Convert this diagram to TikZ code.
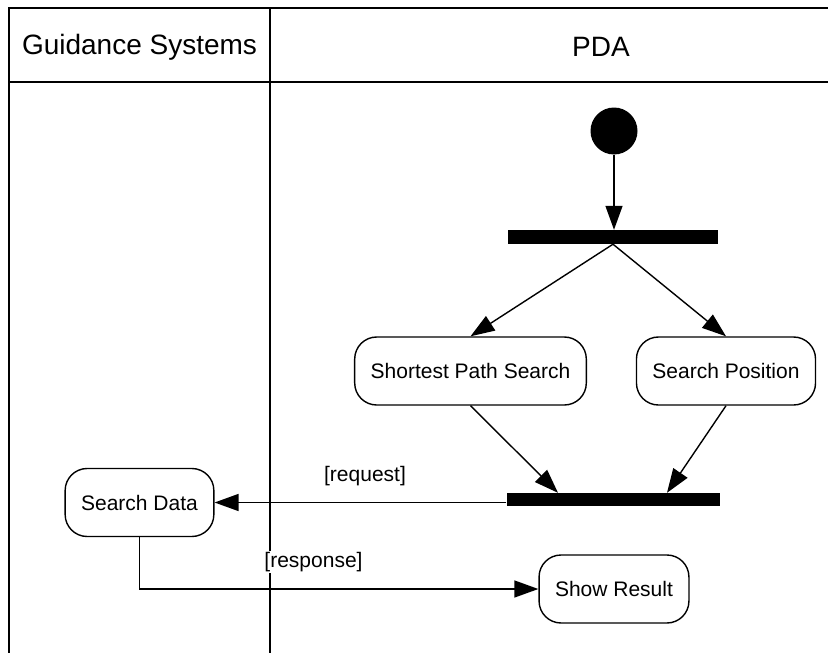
\documentclass[tikz,border=0pt]{standalone}
\usepackage{fontspec}
\setmainfont{Liberation Sans}
\usetikzlibrary{arrows.meta}
\begin{document}
\begin{tikzpicture}[x=1pt,y=-1pt,
  activity/.style={draw,line width=1.4pt,rounded corners=22pt,minimum height=68pt,
    inner xsep=16pt,font=\fontsize{21}{25}\selectfont},
  syncbar/.style={fill=black,inner sep=0pt,minimum height=14pt},
  flow/.style={line width=1.4pt,-{Triangle[length=24pt,width=17pt]}},
  guard/.style={font=\fontsize{21}{25}\selectfont,inner sep=1.5pt},
  lane/.style={line width=2pt},
  lanehead/.style={font=\fontsize{28}{32}\selectfont}]
\useasboundingbox (0,0) rectangle (828,653);

% swimlane frame
\draw[lane] (9,653) -- (9,8) -- (828,8);
\draw[lane] (9,82) -- (828,82);
\draw[lane] (270,8) -- (270,653);
\node[lanehead] (hgs) at (139.5,47) {Guidance Systems};
\node[lanehead] (hpda) at (601,47) {PDA};

% initial node and fork bar
\node[circle,fill=black,minimum size=47pt,inner sep=0pt] (start) at (614,131) {};
\node[syncbar,minimum width=210pt] (fork) at (613,237) {};

% activities
\node[activity] (sps) at (470.5,371) {Shortest Path Search};
\node[activity] (spos) at (726,371) {Search Position};
\node[syncbar,minimum width=213pt,minimum height=13pt] (join) at (613,499.5) {};
\node[activity] (sdata) at (139.5,502.5) {Search Data};
\node[activity] (show) at (614,589) {Show Result};

% control flows
\draw[flow] (start.south) -- (start.south |- fork.north);
\draw[flow] (fork.south) -- (sps.north);
\draw[flow] (fork.south) -- (spos.north);
\draw[flow] (sps.south) -- ([xshift=-55pt]join.north);
\draw[flow] (spos.south) -- ([xshift=54pt]join.north);
\draw[flow] (join.west |- sdata.east) -- (sdata.east);
\draw[flow] (sdata.south) |- (show.west);

% guards
\node[guard] (req) at (365,476) {[request]};
\node[guard,fill=white] (resp) at (313.5,562) {[response]};
\end{tikzpicture}
\end{document}
